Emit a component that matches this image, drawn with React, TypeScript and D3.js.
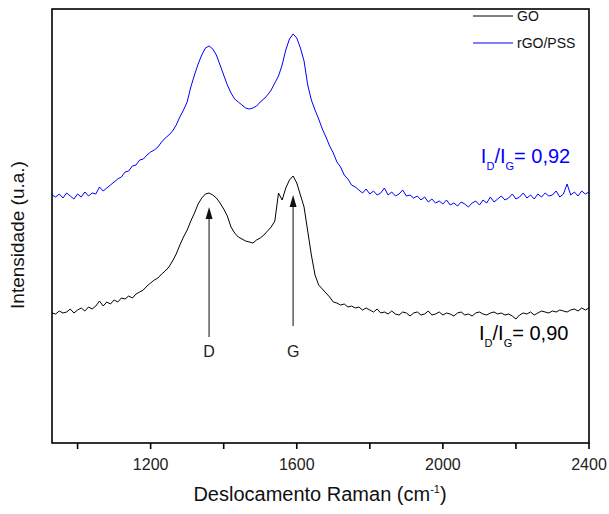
import React from "react";
import * as d3 from "d3";

// Raman shift grid (cm^-1)
const ramanShift = [
  930, 940, 950, 960, 970, 980, 990,
  1000, 1010, 1020, 1030, 1040, 1050, 1060, 1070, 1080, 1090,
  1100, 1110, 1120, 1130, 1140, 1150, 1160, 1170, 1180, 1190,
  1200, 1210, 1220, 1230, 1240, 1250, 1260, 1270, 1280, 1290,
  1300, 1310, 1320, 1330, 1340, 1350, 1360, 1370, 1380, 1390,
  1400, 1410, 1420, 1430, 1440, 1450, 1460, 1470, 1480, 1490,
  1500, 1510, 1520, 1530, 1540, 1550, 1560, 1570, 1580, 1590,
  1600, 1610, 1620, 1630, 1640, 1650, 1660, 1670, 1680, 1690,
  1700, 1710, 1720, 1730, 1740, 1750, 1760, 1770, 1780, 1790,
  1800, 1810, 1820, 1830, 1840, 1850, 1860, 1870, 1880, 1890,
  1900, 1910, 1920, 1930, 1940, 1950, 1960, 1970, 1980, 1990,
  2000, 2010, 2020, 2030, 2040, 2050, 2060, 2070, 2080, 2090,
  2100, 2110, 2120, 2130, 2140, 2150, 2160, 2170, 2180, 2190,
  2200, 2210, 2220, 2230, 2240, 2250, 2260, 2270, 2280, 2290,
  2300, 2310, 2320, 2330, 2340, 2350, 2360, 2370, 2380, 2390,
  2400,
];

// GO spectrum (a.u., offset)
const goIntensity = [
  130, 129, 132, 130, 131, 134, 130,
  133, 135, 132, 136, 134, 137, 142, 137, 141, 139,
  143, 141, 145, 144, 147, 145, 149, 151, 153, 157,
  160, 163, 165, 169, 172, 176, 182, 189, 198, 206,
  213, 222, 230, 239, 245, 249, 250, 248, 245, 240,
  234, 227, 216, 210, 206, 204, 202, 201, 200, 203,
  205, 208, 212, 216, 222, 250, 243, 255, 263, 267,
  260, 248, 236, 212, 188, 168, 158, 154, 150, 146,
  141, 140, 138, 139, 136, 137, 135, 136, 133, 135,
  133, 131, 134, 130, 131, 129, 132, 129, 128, 131,
  130, 127, 130, 131, 128, 129, 132, 128, 129, 131,
  128, 130, 129, 127, 130, 131, 128, 129, 127, 130,
  131, 129, 128, 130, 131, 129, 130, 128, 129, 127,
  124, 128, 130, 129, 131, 128, 130, 132, 131, 130,
  132, 131, 133, 132, 131, 133, 134, 132, 135, 133,
  135,
];

// rGO/PSS spectrum (a.u., offset)
const rgoIntensity = [
  248, 246, 249, 245, 250, 247, 244,
  249, 246, 251, 247, 250, 249, 256, 252, 255, 258,
  261, 264, 266, 271, 272, 277, 278, 283, 284, 288,
  291, 293, 296, 301, 305, 308, 312, 318, 326, 333,
  341, 356, 368, 379, 388, 395, 397, 394, 388, 378,
  368, 358, 350, 344, 341, 338, 335, 334, 335, 337,
  341, 344, 348, 353, 360, 367, 378, 393, 404, 409,
  405, 395, 382, 358, 343, 333, 324, 314, 306, 297,
  290, 281, 276, 268, 264, 258, 256, 253, 250, 254,
  249, 252, 248, 250, 255, 248, 251, 247, 249, 253,
  247, 248, 245, 247, 243, 246, 241, 244, 240, 242,
  239, 243, 238, 240, 237, 241, 239, 236, 240, 242,
  238, 243, 240, 246, 241, 244, 247, 243, 245, 249,
  244, 246, 250, 245, 248, 244, 249, 246, 250, 247,
  248, 252, 246, 249, 259, 248, 251, 247, 252, 249,
  251,
];

const xTicksMajor = [1200, 1600, 2000, 2400];
const xTicksMinor = [1000, 1400, 1800, 2200];

const seriesNames = ["GO", "rGO/PSS"];
const seriesColors = ["#000000", "#0000ff"];

const peakNames = ["D", "G"];
const peakShift = [1360, 1590];
const arrowTop = [236, 248];
const arrowBottom = [106, 117];
const peakLabelLevel = 86;

const ratioValues = ["0,90", "0,92"];
const ratioShift = [2099, 2104];
const ratioLevel = [103, 280];

const W = 609;
const H = 514;
const left = 52;
const right = 589;
const top = 9;
const bottom = 443;

const FONT = "'Liberation Sans', Arial, sans-serif";

export default function App() {
  const x = d3.scaleLinear().domain([930, 2400]).range([left, right]);
  const y = d3.scaleLinear().domain([0, 434]).range([bottom, top]);

  const line = d3
    .line<number>()
    .x((_, i) => x(ramanShift[i]))
    .y((d) => y(d));

  const series = [goIntensity, rgoIntensity];

  return (
    <svg
      width={W}
      height={H}
      style={{ position: "absolute", left: 0, top: 0, background: "#fff" }}
      fontFamily={FONT}
    >
      <defs>
        <clipPath id="plotClip">
          <rect x={left} y={top} width={right - left} height={bottom - top} />
        </clipPath>
      </defs>

      {/* spectra */}
      <g clipPath="url(#plotClip)">
        {series.map((s, k) => (
          <path
            key={k}
            d={line(s) || ""}
            fill="none"
            stroke={seriesColors[k]}
            strokeWidth={1}
            strokeLinejoin="round"
          />
        ))}
      </g>

      {/* frame */}
      <rect
        x={left}
        y={top}
        width={right - left}
        height={bottom - top}
        fill="none"
        stroke="#000"
        strokeWidth={1.6}
      />

      {/* x ticks */}
      {xTicksMajor.map((t) => (
        <g key={"M" + t}>
          <line x1={x(t)} x2={x(t)} y1={bottom} y2={bottom + 6} stroke="#000" strokeWidth={1.6} />
          <text x={x(t)} y={470} textAnchor="middle" fontSize={16} fill="#222">
            {t}
          </text>
        </g>
      ))}
      {xTicksMinor.map((t) => (
        <line key={"m" + t} x1={x(t)} x2={x(t)} y1={bottom} y2={bottom + 6} stroke="#000" strokeWidth={1.6} />
      ))}

      {/* axis titles */}
      <text x={320} y={501} textAnchor="middle" fontSize={20} fill="#111">
        Deslocamento Raman (cm
        <tspan dy={-8} fontSize={11}>-1</tspan>
        <tspan dy={8}>)</tspan>
      </text>
      <text
        transform={`translate(24, 235) rotate(-90)`}
        textAnchor="middle"
        fontSize={19}
        fill="#111"
      >
        Intensidade (u.a.)
      </text>

      {/* legend */}
      {seriesNames.map((n, k) => (
        <g key={n}>
          <line x1={473} x2={513} y1={16 + k * 27} y2={16 + k * 27} stroke={seriesColors[k]} strokeWidth={1} />
          <text x={517} y={21 + k * 27} fontSize={14} fill="#111">
            {n}
          </text>
        </g>
      ))}

      {/* peak arrows */}
      {peakNames.map((p, k) => {
        const px = x(peakShift[k]);
        const yt = y(arrowTop[k]);
        const yb = y(arrowBottom[k]);
        return (
          <g key={p}>
            <line x1={px} x2={px} y1={yt + 8} y2={yb} stroke="#444" strokeWidth={1.3} />
            <path d={`M${px},${yt} L${px - 3.5},${yt + 12} L${px + 3.5},${yt + 12} Z`} fill="#111" />
            <text x={px} y={y(peakLabelLevel)} textAnchor="middle" fontSize={16} fill="#222">
              {p}
            </text>
          </g>
        );
      })}

      {/* ratio labels */}
      {ratioValues.map((v, k) => (
        <text key={v} x={x(ratioShift[k])} y={y(ratioLevel[k])} fontSize={20} fill={seriesColors[k]}>
          I<tspan dy={7} fontSize={11}>D</tspan>
          <tspan dy={-7}>/I</tspan>
          <tspan dy={7} fontSize={11}>G</tspan>
          <tspan dy={-7}>= {v}</tspan>
        </text>
      ))}
    </svg>
  );
}
